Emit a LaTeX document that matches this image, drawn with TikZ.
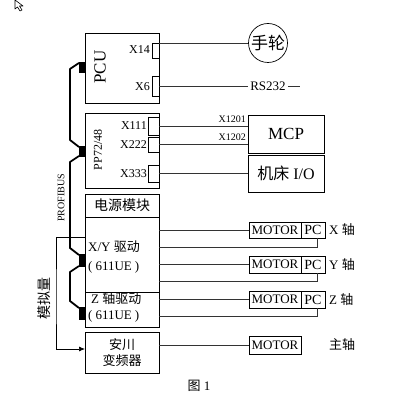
\documentclass[tikz,border=0pt]{standalone}
\usepackage{fontspec}
\setmainfont{Liberation Serif}
\newfontfamily\cjk{Noto Sans CJK SC}
\usetikzlibrary{calc,arrows.meta}
\begin{document}
\begin{tikzpicture}[x=1pt,y=-1pt,
  box/.style={draw,line width=0.7pt,inner sep=0pt,outer sep=0pt},
  conn/.style={draw,line width=0.6pt,inner sep=0pt,outer sep=0pt},
  blk/.style={fill=black,inner sep=0pt,outer sep=0pt,minimum width=6pt},
  wire/.style={line width=0.8pt,draw=black!80},
  bus/.style={line width=1.8pt,line join=round},
  lbl/.style={inner sep=0pt},
  fs/.style={font=\fontsize{#1}{#1}\selectfont},
  mot/.style={box,minimum width=52pt,fs=13},
  pcb/.style={box,minimum width=24pt,fs=14}
]
\useasboundingbox (0,0) rectangle (414,411);
% cursor
\draw[line width=0.6pt,line join=round] (15,0) -- (15,9) -- (17.5,7) -- (20,11) -- (22,10) -- (19.5,6) -- (23,6) -- cycle;

% PCU
\node[box,minimum width=74pt,minimum height=70pt] (pcu) at (122,68) {};
\node[fs=17,rotate=90] (pcut) at (100,67) {PCU};
\node[conn,minimum width=7pt,minimum height=15pt] (x14) at (155.5,50.5) {};
\node[fs=12,anchor=east,lbl] (x14t) at (150,50) {X14};
\node[conn,minimum width=7pt,minimum height=20pt] (x6) at (155.5,86) {};
\node[fs=12,anchor=east,lbl] (x6t) at (150,87) {X6};
\node[draw,circle,line width=0.7pt,minimum size=39pt,inner sep=0pt,fs=17] (hw) at (268,43) {\cjk 手轮};
\draw[wire] (hw.west) -- (hw.west -| x14.east);
\node[fs=13,inner sep=2pt] (rs) at (268,86) {RS232};
\coordinate (rsend) at (300,86);
\draw[wire] (x6.east) -- (rs.west);
\draw[wire] (rs.east) -- (rsend);

% PP72/48
\node[box,minimum width=74pt,minimum height=75pt] (pp) at (122,150.5) {};
\node[fs=12,rotate=90] (ppt) at (98,150) {PP72/48};
\node[conn,minimum width=11pt,minimum height=18pt] (x111) at (153.5,126) {};
\node[conn,minimum width=11pt,minimum height=15pt] (x222) at (153.5,144.5) {};
\node[conn,minimum width=11pt,minimum height=17pt] (x333) at (153.5,173.5) {};
\node[fs=12,anchor=east,lbl] (x111t) at (147,126) {X111};
\node[fs=12,anchor=east,lbl] (x222t) at (147,145) {X222};
\node[fs=12,anchor=east,lbl] (x333t) at (147,174) {X333};
\node[box,minimum width=76pt,minimum height=38pt,fs=17] (mcp) at (286,134) {MCP};
\node[box,minimum width=76pt,minimum height=37pt,fs=16] (io) at (286,173.5) {{\cjk 机床} I/O};
\draw[wire] (x111.east) -- (x111.east -| mcp.west);
\draw[wire] (x222.east) -- (x222.east -| mcp.west);
\draw[wire] (x333.east) -- (io.west);
\node[fs=10,anchor=east,lbl] (l1201) at (246,119) {X1201};
\node[fs=10,anchor=east,lbl] (l1202) at (246,137) {X1202};

% power / drives
\node[box,minimum width=74pt,minimum height=23pt,fs=14] (pw) at (122,205.5) {\cjk 电源模块};
\node[box,minimum width=74pt,minimum height=75pt] (xy) at (122,254.5) {};
\node[box,minimum width=74pt,minimum height=35pt] (zd) at (122,309.5) {};
\node[fs=13,anchor=west,lbl] (xyt1) at (88,247) {X/Y {\cjk 驱动}};
\node[fs=13,anchor=west,lbl] (xyt2) at (88,267) {(\hspace{3pt}611UE\hspace{3pt})};
\node[fs=13,anchor=west,lbl] (zt1) at (91,299) {Z {\cjk 轴驱动}};
\node[fs=13,anchor=west,lbl] (zt2) at (88,316) {(\hspace{3pt}611UE\hspace{3pt})};
\node[box,minimum width=74pt,minimum height=41pt,align=center,fs=13] (inv) at (122,352.5) {{\cjk 安川}\\[3pt]{\cjk 变频器}};

% motors
\node[mot,minimum height=16pt] (mx) at (275,230) {MOTOR};
\node[pcb,minimum height=16pt,anchor=west] (px) at (mx.east) {PC};
\node[mot,minimum height=17pt] (my) at (275,264.5) {MOTOR};
\node[pcb,minimum height=17pt,anchor=west] (py) at (my.east) {PC};
\node[mot,minimum height=17pt] (mz) at (275,299.5) {MOTOR};
\node[pcb,minimum height=17pt,anchor=west] (pz) at (mz.east) {PC};
\node[mot,minimum height=18pt] (ms) at (275,345) {MOTOR};

\draw[wire] (mx.west) -- (mx.west -| xy.east);
\draw[wire] ([xshift=4pt]px.south) |- (xy.east |- 0,247);
\draw[wire] (my.west) -- (my.west -| xy.east);
\draw[wire] ([xshift=4pt]py.south) |- (xy.east |- 0,281);
\draw[wire] (mz.west) -- (mz.west -| zd.east);
\draw[wire] ([xshift=4pt]pz.south) |- (zd.east |- 0,316);
\draw[wire] (ms.west) -- (ms.west -| inv.east);

\node[fs=13,anchor=west,lbl] (ax) at (329,230) {X {\cjk 轴}};
\node[fs=13,anchor=west,lbl] (ay) at (329,265) {Y {\cjk 轴}};
\node[fs=13,anchor=west,lbl] (az) at (329,300) {Z {\cjk 轴}};
\node[fs=13,anchor=west,lbl] (as) at (329,345) {\cjk 主轴};

\node[fs=13] (fig) at (199,386) {{\cjk 图} 1};

% PROFIBUS bus
\node[blk,minimum height=11pt] (b1) at (82,67.5) {};
\node[blk,minimum height=11pt] (b2) at (82,151.5) {};
\node[blk,minimum height=13pt] (b3) at (82,260.5) {};
\node[blk,minimum height=13pt] (b4) at (82,313.5) {};
\draw[bus] ([yshift=-1pt]b1.north west) -- ++(-9,6) -- ($(b2.north west)+(-9,-6)$) -- ([yshift=-1pt]b2.north west);
\draw[bus] ([yshift=1pt]b2.south west) -- ++(-9,6) -- ($(b3.north west)+(-9,-6)$) -- ([yshift=-1pt]b3.north west);
\draw[bus] ([yshift=1pt]b3.south west) -- ++(-9,6) -- ($(b4.north west)+(-9,-6)$) -- ([yshift=-1pt]b4.north west);
\node[fs=10,rotate=90] (pb) at (61,198) {PROFIBUS};

% analog
\node[fs=14,rotate=90] (an) at (44,298) {\cjk 模拟量};
\draw[line width=0.7pt,-{Latex[length=6pt,width=5pt]}] (xy.west |- 0,237) -| (56,300) |- (inv.west |- 0,349);
\end{tikzpicture}
\end{document}
